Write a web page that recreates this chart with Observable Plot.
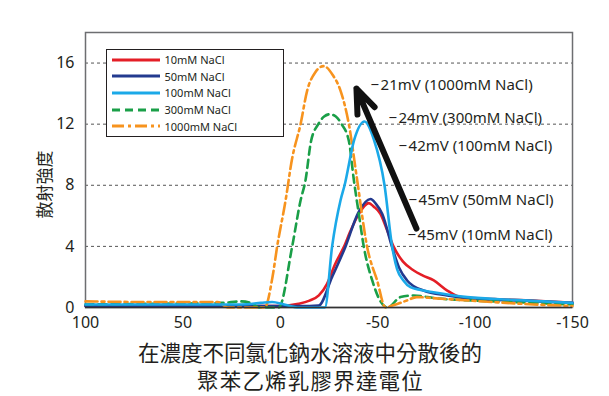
<!DOCTYPE html>
<html><head><meta charset="utf-8">
<script src="https://cdn.jsdelivr.net/npm/d3@7"></script>
<script src="https://cdn.jsdelivr.net/npm/@observablehq/plot@0.6"></script>
<style>
body{margin:0;background:#fff;}
#wrap{position:relative;width:609px;height:396px;overflow:hidden;background:#fff;}
.legend{position:absolute;left:106px;top:49px;width:176px;height:86px;border:1.5px solid #231f20;background:#fff;font-family:"Noto Sans",sans-serif;font-size:11px;color:#231f20;}
.legend .row{position:absolute;left:4.5px;height:16px;display:flex;align-items:center;white-space:nowrap;}
.legend .row span{margin-left:5px;}
.title{position:absolute;left:0;width:609px;text-align:center;font-family:"Noto Sans CJK TC",sans-serif;color:#231f20;line-height:28px;}
</style>
</head><body>
<div id="wrap"></div>
<script>
// ---- data ----
const seriesNames = ["10mM NaCl", "50mM NaCl", "100mM NaCl", "300mM NaCl", "1000mM NaCl"];
const xTicks = [100, 50, 0, -50, -100, -150];
const yTicks = [0, 4, 8, 12, 16];
const yGrid = [4, 8, 12, 16];
const yTitle = "散射強度";

const x10 = [100, 50, 0, -9.4, -15, -19.8, -24, -28, -32.6, -36, -40.3, -45.4, -48, -51.4, -55, -58.3, -63, -68.5, -73, -78.8, -85.7, -92.5, -110, -130, -150];
const y10 = [0.1, 0.1, 0.1, 0.24, 0.45, 0.79, 1.55, 2.8, 3.95, 5.0, 6.13, 6.83, 6.6, 6.13, 5.0, 3.95, 3.0, 2.42, 2.1, 1.77, 1.11, 0.68, 0.55, 0.45, 0.3];

const x50 = [100, 50, 0, -15, -19.6, -26.6, -33.5, -40, -46.3, -49, -52.3, -57.4, -61, -65.1, -73.5, -85.7, -100, -125, -150];
const y50 = [0.1, 0.1, 0.1, 0.1, 0.12, 2.0, 4.0, 6.2, 7.1, 6.8, 6.13, 3.95, 2.6, 1.77, 1.11, 0.79, 0.55, 0.45, 0.3];

const x100 = [100, 60, 20, 10, 4.2, -2, -9.5, -22.9, -26.6, -30.9, -33, -38, -43.2, -48, -53.5, -57.4, -60, -63.2, -66.8, -72, -78.6, -96, -120, -150];
const y100 = [0.2, 0.2, 0.2, 0.3, 0.36, 0.2, 0, 0, 4.0, 7.0, 8.0, 11.0, 12.17, 11.0, 8.0, 4.0, 2.5, 1.77, 1.33, 1.15, 1.0, 0.68, 0.5, 0.3];

const x300 = [100, 60, 30, 20, 15, 11, 0.8, -6.1, -10.4, -12.9, -15.8, -19.5, -22.5, -25.5, -28.5, -31.5, -35.2, -37.8, -40.3, -42.9, -47.2, -51, -55, -61.7, -68.5, -80, -100, -130, -150];
const y300 = [0.2, 0.25, 0.3, 0.4, 0.3, 0, 0, 4.0, 7.0, 8.3, 10.9, 12.0, 12.5, 12.65, 12.5, 12.0, 10.9, 8.3, 6.13, 3.95, 1.77, 0.5, 0, 0.68, 0.79, 0.6, 0.45, 0.3, 0.2];

const x1000 = [100, 60, 32, 27, 8, 4, 1.6, -2.7, -6, -10.4, -13.8, -18, -22.3, -27, -30.9, -35.2, -39.5, -44.6, -49.7, -54, -58, -65, -70, -80, -92, -110, -130, -150];
const y1000 = [0.4, 0.35, 0.35, 0, 0, 2.0, 4.0, 7.0, 9.7, 12.0, 14.2, 15.4, 15.8, 15.2, 14.2, 12.0, 8.3, 3.95, 1.77, 0, 0.15, 0.46, 0.68, 0.6, 0.5, 0.35, 0.2, 0.1];

const annoText = ["−\u200A21mV (1000mM NaCl)", "−\u200A24mV (300mM NaCl)", "−\u200A42mV (100mM NaCl)", "−\u200A45mV (50mM NaCl)", "−\u200A45mV (10mM NaCl)"];
const annoX = [-46.3, -55.5, -60.7, -65.8, -65.3];
const annoY = [14.53, 12.37, 10.54, 7.0, 4.71];

const arrowFrom = {x: -69.9, y: 5.17};
const arrowTo = {x: -39.1, y: 14.33};

// ---- styles ----
const colors = ["#e41e26", "#233a8f", "#1ba9e8", "#1a9f48", "#f7931e"];
const dashes = [null, null, null, "8,5", "12,4,3,4"];

const xs = [x10, x50, x100, x300, x1000];
const ys = [y10, y50, y100, y300, y1000];
const rows = seriesNames.map((s, i) => xs[i].map((x, j) => ({s, x, y: ys[i][j]})));
const annos = annoText.map((t, i) => ({t, x: annoX[i], y: annoY[i]}));

const drawOrder = [0, 1, 3, 4, 2];
const lineMarks = drawOrder.map(i => Plot.line(rows[i], {
  x: "x", y: "y", stroke: colors[i], strokeWidth: 2.6,
  strokeDasharray: dashes[i] || undefined, curve: "monotone-x"
}));

const chart = Plot.plot({
  width: 609, height: 338,
  marginLeft: 85, marginRight: 37, marginTop: 32, marginBottom: 31,
  x: {domain: [100, -150]},
  y: {domain: [0, 18]},
  style: {fontFamily: "'Noto Sans', sans-serif", fontSize: "16px", color: "#231f20", background: "transparent"},
  marks: [
    Plot.ruleY(yGrid, {stroke: "#555", strokeDasharray: "3,3", strokeWidth: 1}),
    Plot.frame({stroke: "#6d6e71", strokeWidth: 1.5}),
    ...lineMarks,
    Plot.ruleY([0], {stroke: "#333", strokeWidth: 1.5}),
    Plot.axisX({ticks: xTicks, tickSize: 0, tickPadding: 9, tickFormat: d => String(d), fontSize: 16, label: null}),
    Plot.axisY({ticks: yTicks, tickSize: 0, tickPadding: 11, fontSize: 16, label: null}),
    Plot.text([{t: yTitle, y: 8.05}], {y: "y", text: "t", frameAnchor: "left", textAnchor: "middle", rotate: -90, dx: -40, fontSize: 17, fontFamily: "'Noto Sans CJK TC', sans-serif", fill: "#231f20"}),
    Plot.arrow([{x1: arrowFrom.x, y1: arrowFrom.y, x2: arrowTo.x, y2: arrowTo.y}], {x1: "x1", y1: "y1", x2: "x2", y2: "y2", stroke: "#111", strokeWidth: 6, headLength: 6.5, headAngle: 42}),
    Plot.text(annos, {x: "x", y: "y", text: "t", textAnchor: "start", fontSize: 15, fill: "#231f20"})
  ]
});

const wrap = document.getElementById("wrap");
wrap.appendChild(chart);

// legend
const legend = document.createElement("div");
legend.className = "legend";
seriesNames.forEach((name, i) => {
  const row = document.createElement("div");
  row.className = "row";
  row.style.top = (1.5 + i * 16.7) + "px";
  row.innerHTML = `<svg width="48" height="6"><line x1="0" x2="48" y1="3" y2="3" stroke="${colors[i]}" stroke-width="3" ${dashes[i] ? `stroke-dasharray="${dashes[i]}"` : ""}/></svg><span>${name}</span>`;
  legend.appendChild(row);
});
wrap.appendChild(legend);

// title
const t1 = document.createElement("div");
t1.className = "title"; t1.style.top = "338px"; t1.style.fontSize = "21.5px"; t1.style.paddingLeft = "11px"; t1.style.boxSizing = "border-box";
t1.textContent = "在濃度不同氯化鈉水溶液中分散後的";
const t2 = document.createElement("div");
t2.className = "title"; t2.style.top = "366px"; t2.style.fontSize = "21.5px"; t2.style.letterSpacing = "1.2px"; t2.style.paddingLeft = "12px"; t2.style.boxSizing = "border-box";
t2.textContent = "聚苯乙烯乳膠界達電位";
wrap.appendChild(t1); wrap.appendChild(t2);
</script>
</body></html>
